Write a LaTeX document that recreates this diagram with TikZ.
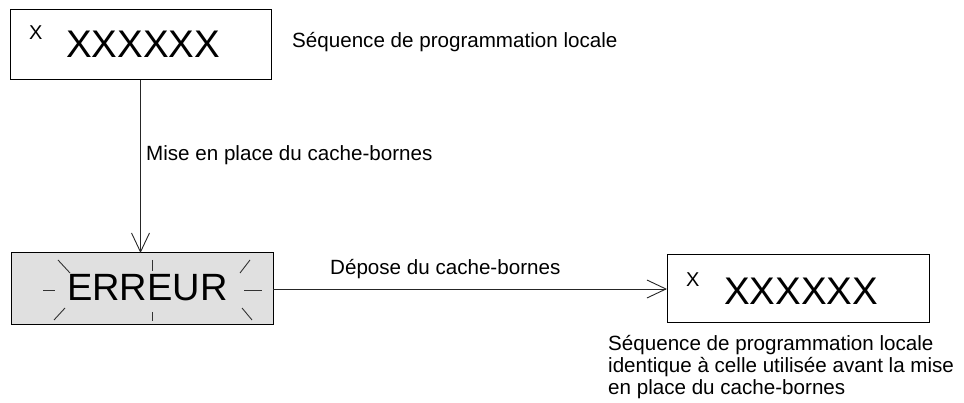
\documentclass[tikz,border=0pt]{standalone}
\usepackage{fontspec}
\setmainfont{Liberation Sans}
\usetikzlibrary{arrows.meta}
\begin{document}
\begin{tikzpicture}[x=1pt,y=-1pt,
 box/.style={draw=black,line width=1pt,inner sep=0pt,outer sep=0pt},
 lbl/.style={anchor=base west,inner sep=0pt,font=\fontsize{20.6}{22}\selectfont},
 smallx/.style={anchor=base west,inner sep=0pt,font=\fontsize{20}{20}\selectfont},
 bigx/.style={anchor=base west,inner sep=0pt,font=\fontsize{38.5}{38}\selectfont},
 conn/.style={line width=0.9pt,draw=black!85,-{Straight Barb[length=19pt,width=18pt,line width=0.9pt]}},
 ray/.style={line width=0.9pt,draw=black!80}]
\useasboundingbox (0,0) rectangle (964,403);
% boxes
\node[box,minimum width=261pt,minimum height=70pt] (top) at (140.5,45) {};
\node[box,fill=black!12,minimum width=262pt,minimum height=72pt] (err) at (142,289) {};
\node[box,minimum width=262pt,minimum height=68pt] (res) at (798,289) {};
% box texts
\node[smallx] (tx1) at (29,40) {X};
\node[bigx] (tx2) at (66,57.5) {XXXXXX};
\node[anchor=base west,inner sep=0pt,font=\fontsize{38}{38}\selectfont] (errt) at (67,300.5) {ERREUR};
\node[smallx] (rx1) at (686,287) {X};
\node[bigx] (rx2) at (724,305) {XXXXXX};
% rays
\draw[ray] (152,260) -- (152,271);
\draw[ray] (152,312) -- (152,321);
\draw[ray] (43,290) -- (55,290);
\draw[ray] (244,290) -- (262,290);
\draw[ray] (58,260) -- (70,273);
\draw[ray] (250,260) -- (240,273);
\draw[ray] (65,308) -- (54,320);
\draw[ray] (242,308) -- (252,320);
% connectors
\draw[conn] (top.south) -- (top.south |- err.north);
\draw[conn] (err.east) -- (res.west);
% labels
\node[lbl] (l1) at (292,48) {Séquence de programmation locale};
\node[lbl] (l2) at (146,161) {Mise en place du cache-bornes};
\node[lbl] (l3) at (330,275) {Dépose du cache-bornes};
\node[lbl] (l4) at (608,350) {Séquence de programmation locale};
\node[lbl] (l5) at (608,372) {identique à celle utilisée avant la mise};
\node[lbl] (l6) at (608,394) {en place du cache-bornes};
\end{tikzpicture}
\end{document}
